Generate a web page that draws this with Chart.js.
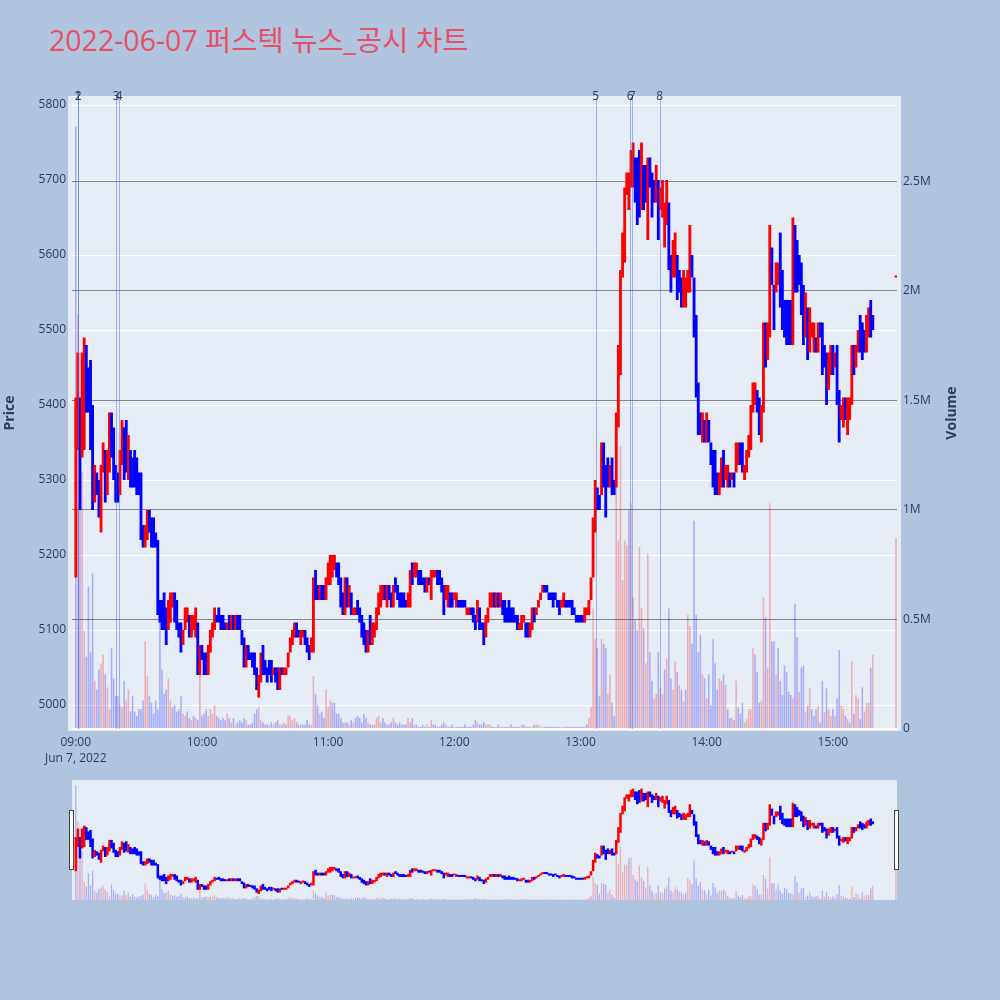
<!DOCTYPE html>
<html lang="ko">
<head>
<meta charset="utf-8">
<title>퍼스텍 뉴스_공시 차트</title>
<script src="https://cdn.jsdelivr.net/npm/chart.js@4.4.1/dist/chart.umd.min.js"></script>
<style>
  html, body { margin: 0; padding: 0; }
  body {
    width: 1000px; height: 1000px; position: relative; overflow: hidden;
    background: #b0c4de;
    font-family: "Open Sans", "Noto Sans CJK KR", sans-serif;
  }
  #chart-title {
    position: absolute; left: 49px; top: 26px;
    font-size: 28.5px; line-height: 1; color: #e6506a; white-space: nowrap;
  }
  #price-chart { position: absolute; left: 0; top: 0; }
  #range-chart { position: absolute; left: 0; top: 770px; }
</style>
</head>
<body>
<div id="chart-title">2022-06-07 퍼스텍 뉴스_공시 차트</div>
<canvas id="price-chart" width="1000" height="770"></canvas>
<canvas id="range-chart" width="1000" height="140"></canvas>
<script>
// 1-minute candles, index = minutes after 09:00
const opens = [
  5170, 5340, 5410, 5330, 5340, 5480, 5450, 5460, 5400, 5270, // 09:00
  5310, 5300, 5230, 5310, 5340, 5280, 5310, 5390, 5370, 5320,
  5310, 5280, 5320, 5370, 5380, 5300, 5340, 5330, 5340, 5330,
  5310, 5310, 5240, 5210, 5220, 5260, 5250, 5250, 5230, 5220,
  5140, 5140, 5150, 5130, 5100, 5110, 5130, 5150, 5140, 5110,
  5110, 5080, 5100, 5110, 5120, 5090, 5100, 5090, 5110, 5040,
  5080, 5070, 5070, 5040, 5070, 5090, 5100, 5120, 5130, 5120, // 10:00
  5120, 5110, 5100, 5120, 5100, 5120, 5100, 5120, 5120, 5100,
  5090, 5050, 5080, 5070, 5070, 5070, 5050, 5010, 5030, 5080,
  5060, 5050, 5060, 5060, 5040, 5050, 5050, 5020, 5050, 5040,
  5040, 5050, 5070, 5080, 5090, 5110, 5100, 5080, 5090, 5100,
  5090, 5080, 5070, 5070, 5180, 5160, 5140, 5160, 5160, 5140,
  5160, 5160, 5170, 5180, 5190, 5190, 5170, 5150, 5120, 5170, // 11:00
  5130, 5150, 5120, 5120, 5140, 5130, 5120, 5110, 5100, 5070,
  5120, 5080, 5090, 5100, 5120, 5130, 5140, 5160, 5130, 5160,
  5150, 5130, 5170, 5160, 5150, 5150, 5150, 5140, 5130, 5130,
  5190, 5170, 5170, 5180, 5180, 5170, 5170, 5150, 5170, 5140,
  5170, 5170, 5180, 5180, 5170, 5160, 5140, 5130, 5150, 5150,
  5140, 5130, 5140, 5140, 5140, 5140, 5120, 5120, 5130, 5130, // 12:00
  5120, 5110, 5130, 5110, 5110, 5090, 5110, 5130, 5130, 5150,
  5130, 5150, 5130, 5140, 5140, 5130, 5140, 5130, 5130, 5120,
  5120, 5100, 5100, 5110, 5110, 5110, 5090, 5100, 5130, 5120,
  5130, 5140, 5150, 5160, 5160, 5150, 5150, 5150, 5150, 5140,
  5140, 5130, 5130, 5140, 5140, 5140, 5140, 5130, 5120, 5120,
  5120, 5120, 5110, 5120, 5120, 5140, 5170, 5230, 5290, 5280, // 13:00
  5280, 5350, 5320, 5330, 5290, 5330, 5300, 5290, 5370, 5440,
  5570, 5590, 5680, 5660, 5690, 5690, 5730, 5730, 5740, 5660,
  5720, 5720, 5620, 5730, 5710, 5700, 5670, 5700, 5660, 5650,
  5610, 5640, 5670, 5600, 5570, 5570, 5600, 5580, 5570, 5530,
  5530, 5550, 5550, 5600, 5570, 5520, 5430, 5390, 5350, 5380,
  5350, 5380, 5350, 5340, 5340, 5310, 5280, 5290, 5340, 5300, // 14:00
  5290, 5310, 5300, 5310, 5310, 5320, 5350, 5350, 5300, 5310,
  5330, 5340, 5390, 5400, 5420, 5410, 5350, 5390, 5510, 5460,
  5490, 5610, 5560, 5550, 5560, 5630, 5580, 5540, 5540, 5540,
  5540, 5480, 5640, 5620, 5600, 5590, 5560, 5490, 5530, 5470,
  5490, 5470, 5490, 5470, 5510, 5510, 5480, 5470, 5420, 5440,
  5480, 5450, 5480, 5420, 5380, 5370, 5410, 5360, 5380, 5400, // 15:00
  5480, 5450, 5470, 5520, 5510, 5500, 5470, 5490, 5540, 5520,
];
const closes = [
  5410, 5470, 5260, 5470, 5490, 5390, 5390, 5340, 5260, 5320, // 09:00
  5280, 5250, 5320, 5350, 5270, 5340, 5390, 5330, 5300, 5270,
  5270, 5340, 5380, 5300, 5310, 5360, 5290, 5290, 5290, 5280,
  5280, 5220, 5210, 5240, 5260, 5230, 5210, 5210, 5210, 5120,
  5110, 5100, 5100, 5080, 5140, 5150, 5150, 5110, 5100, 5090,
  5070, 5100, 5130, 5130, 5090, 5120, 5120, 5130, 5040, 5080,
  5060, 5040, 5040, 5080, 5100, 5110, 5130, 5110, 5110, 5100, // 10:00
  5100, 5100, 5110, 5100, 5120, 5100, 5120, 5100, 5100, 5080,
  5050, 5080, 5060, 5060, 5050, 5040, 5020, 5040, 5070, 5040,
  5040, 5030, 5040, 5030, 5050, 5030, 5020, 5050, 5040, 5050,
  5050, 5070, 5090, 5100, 5110, 5090, 5090, 5100, 5100, 5080,
  5070, 5060, 5090, 5170, 5140, 5140, 5160, 5140, 5140, 5170,
  5190, 5200, 5200, 5200, 5170, 5160, 5130, 5120, 5170, 5130, // 11:00
  5160, 5120, 5130, 5130, 5120, 5110, 5090, 5080, 5070, 5100,
  5080, 5110, 5110, 5130, 5150, 5160, 5160, 5140, 5160, 5140,
  5130, 5160, 5150, 5140, 5130, 5130, 5130, 5130, 5150, 5180,
  5160, 5190, 5190, 5160, 5160, 5160, 5150, 5170, 5160, 5180,
  5180, 5180, 5160, 5160, 5150, 5120, 5160, 5160, 5130, 5130,
  5150, 5150, 5130, 5130, 5130, 5130, 5130, 5130, 5120, 5110, // 12:00
  5100, 5140, 5100, 5100, 5080, 5120, 5130, 5150, 5150, 5130,
  5150, 5130, 5150, 5120, 5110, 5110, 5110, 5110, 5110, 5110,
  5100, 5110, 5120, 5120, 5090, 5090, 5110, 5130, 5110, 5130,
  5140, 5150, 5160, 5150, 5150, 5140, 5140, 5130, 5140, 5130,
  5120, 5140, 5150, 5130, 5130, 5130, 5120, 5120, 5110, 5110,
  5110, 5110, 5130, 5130, 5140, 5170, 5250, 5300, 5260, 5260, // 13:00
  5350, 5290, 5250, 5290, 5320, 5280, 5280, 5390, 5480, 5580,
  5630, 5690, 5710, 5710, 5740, 5750, 5670, 5640, 5650, 5750,
  5660, 5670, 5730, 5690, 5650, 5670, 5720, 5620, 5690, 5700,
  5670, 5700, 5580, 5550, 5620, 5630, 5540, 5550, 5530, 5580,
  5570, 5580, 5640, 5570, 5490, 5410, 5360, 5360, 5390, 5350,
  5390, 5350, 5320, 5290, 5280, 5280, 5310, 5330, 5290, 5320, // 14:00
  5320, 5290, 5310, 5290, 5350, 5350, 5320, 5310, 5320, 5340,
  5360, 5400, 5430, 5430, 5390, 5360, 5400, 5510, 5450, 5510,
  5640, 5560, 5500, 5590, 5590, 5530, 5500, 5490, 5480, 5480,
  5480, 5650, 5550, 5550, 5560, 5520, 5480, 5550, 5460, 5530,
  5510, 5510, 5470, 5510, 5490, 5440, 5450, 5400, 5470, 5480,
  5440, 5470, 5400, 5350, 5400, 5410, 5380, 5410, 5410, 5480, // 15:00
  5440, 5480, 5500, 5470, 5460, 5470, 5520, 5530, 5490, 5500,
];
// traded volume per minute, millions of shares
const volumesM = [
  2.75, 1.89, 1.26, 1.17, 0.45, 0.33, 0.65, 0.35, 0.71, 0.22, // 09:00
  0.18, 0.27, 0.30, 0.34, 0.25, 0.19, 0.09, 0.37, 0.23, 0.15,
  0.15, 0.11, 0.10, 0.22, 0.13, 0.18, 0.08, 0.15, 0.08, 0.06,
  0.09, 0.09, 0.13, 0.40, 0.24, 0.15, 0.12, 0.07, 0.13, 0.09,
  0.55, 0.27, 0.16, 0.18, 0.23, 0.13, 0.10, 0.11, 0.08, 0.09,
  0.15, 0.07, 0.06, 0.08, 0.05, 0.04, 0.06, 0.05, 0.04, 0.37,
  0.06, 0.07, 0.09, 0.06, 0.09, 0.07, 0.11, 0.06, 0.05, 0.04, // 10:00
  0.05, 0.04, 0.07, 0.05, 0.03, 0.05, 0.02, 0.03, 0.04, 0.03,
  0.05, 0.04, 0.02, 0.02, 0.03, 0.07, 0.09, 0.10, 0.04, 0.03,
  0.02, 0.02, 0.02, 0.03, 0.02, 0.03, 0.04, 0.02, 0.02, 0.03,
  0.02, 0.06, 0.06, 0.04, 0.05, 0.03, 0.02, 0.02, 0.02, 0.02,
  0.04, 0.02, 0.02, 0.24, 0.16, 0.11, 0.07, 0.08, 0.05, 0.18,
  0.10, 0.13, 0.12, 0.12, 0.07, 0.07, 0.05, 0.03, 0.03, 0.03, // 11:00
  0.02, 0.04, 0.03, 0.05, 0.06, 0.05, 0.03, 0.07, 0.05, 0.03,
  0.02, 0.02, 0.02, 0.05, 0.06, 0.03, 0.05, 0.03, 0.02, 0.02,
  0.03, 0.05, 0.03, 0.02, 0.03, 0.02, 0.02, 0.02, 0.05, 0.03,
  0.05, 0.02, 0.02, 0.01, 0.01, 0.02, 0.01, 0.02, 0.01, 0.04,
  0.02, 0.02, 0.01, 0.01, 0.02, 0.03, 0.02, 0.01, 0.01, 0.02,
  0.01, 0.01, 0.01, 0.01, 0.01, 0.02, 0.01, 0.01, 0.01, 0.02, // 12:00
  0.04, 0.03, 0.02, 0.02, 0.03, 0.02, 0.02, 0.02, 0.01, 0.01,
  0.01, 0.02, 0.01, 0.01, 0.01, 0.01, 0.01, 0.02, 0.01, 0.01,
  0.01, 0.01, 0.02, 0.02, 0.01, 0.01, 0.01, 0.01, 0.02, 0.02,
  0.02, 0.01, 0.01, 0.01, 0.01, 0.01, 0.01, 0.01, 0.01, 0.01,
  0.01, 0.01, 0.01, 0.01, 0.01, 0.01, 0.01, 0.01, 0.01, 0.01,
  0.01, 0.01, 0.01, 0.02, 0.05, 0.10, 0.55, 0.41, 0.37, 0.15, // 13:00
  0.41, 0.39, 0.37, 0.16, 0.25, 0.12, 0.06, 1.21, 0.86, 1.29,
  0.68, 0.86, 0.84, 1.00, 1.03, 0.60, 0.50, 0.45, 0.83, 0.55,
  0.46, 0.30, 0.80, 0.35, 0.22, 0.14, 0.16, 0.35, 0.19, 0.16,
  0.27, 0.32, 0.55, 0.23, 0.18, 0.31, 0.26, 0.20, 0.18, 0.125,
  0.18, 0.52, 0.47, 0.39, 0.95, 0.52, 0.35, 0.43, 0.25, 0.23,
  0.14, 0.25, 0.11, 0.41, 0.30, 0.18, 0.23, 0.22, 0.25, 0.20, // 14:00
  0.09, 0.05, 0.05, 0.04, 0.22, 0.10, 0.07, 0.12, 0.03, 0.045,
  0.09, 0.09, 0.37, 0.34, 0.26, 0.12, 0.13, 0.60, 0.51, 0.28,
  1.03, 0.40, 0.40, 0.25, 0.37, 0.22, 0.155, 0.29, 0.26, 0.17,
  0.155, 0.14, 0.57, 0.42, 0.17, 0.28, 0.29, 0.077, 0.107, 0.185,
  0.09, 0.06, 0.09, 0.107, 0.03, 0.22, 0.077, 0.185, 0.09, 0.06,
  0.09, 0.06, 0.14, 0.36, 0.107, 0.09, 0.06, 0.045, 0.03, 0.31, // 15:00
  0.07, 0.155, 0.14, 0.045, 0.19, 0.08, 0.12, 0.12, 0.28, 0.34,
];

// 15:30 closing auction
const closeAuctionMinute = 390;
const closeAuctionPrice = 5570;
const closeAuctionVolumeM = 0.87;

// news / disclosure markers
const eventMinutes = [1.0, 1.1, 19.2, 20.6, 247.2, 263.6, 264.6, 277.7];
const eventLabels = ["1", "2", "3", "4", "5", "6", "7", "8"];

const hourMarks = [0, 60, 120, 180, 240, 300, 360];
const hourLabels = ["09:00", "10:00", "11:00", "12:00", "13:00", "14:00", "15:00"];
const dateLabel = "Jun 7, 2022";

const priceTicks = [5000, 5100, 5200, 5300, 5400, 5500, 5600, 5700, 5800];
const volumeTicks = [0, 0.5, 1, 1.5, 2, 2.5];
const volumeTickLabels = ["0", "0.5M", "1M", "1.5M", "2M", "2.5M"];

const X_MIN = -1.8, X_MAX = 390.5;
const PRICE_MIN = 4968, PRICE_MAX = 5810.7;
const VOL_MAX = 2.884;

const UP = "#ff0000";
const DOWN = "#0000ff";
const VOL_UP = "rgba(255,0,0,0.27)";
const VOL_DOWN = "rgba(0,0,255,0.27)";
const axisColor = "#2a3f5f";
const axisFont = { family: "'Open Sans', sans-serif", size: 12 };

const allOpens = opens.concat([closeAuctionPrice]);
const allCloses = closes.concat([closeAuctionPrice]);

const candleColors = allOpens.map((o, i) => {
  const c = allCloses[i];
  if (c !== o) return c > o ? UP : DOWN;
  return i > 0 && c >= allCloses[i - 1] ? UP : DOWN;
});
const volumeColors = allCloses.map((c, i) => (i > 0 && c > allCloses[i - 1] ? VOL_UP : VOL_DOWN));

function makeDatasets(candleRatio, volumeRatio) {
  const candles = opens.map((o, i) => ({ x: i, y: [o, closes[i]] }));
  candles.push({ x: closeAuctionMinute, y: [closeAuctionPrice, closeAuctionPrice] });
  const volumes = volumesM.map((v, i) => ({ x: i, y: v }));
  volumes.push({ x: closeAuctionMinute, y: closeAuctionVolumeM });
  return [
    {
      label: "Price", data: candles, yAxisID: "y", backgroundColor: candleColors,
      grouped: false, categoryPercentage: 1, barPercentage: candleRatio, minBarLength: 2, order: 0,
    },
    {
      label: "Volume", data: volumes, yAxisID: "yVol", backgroundColor: volumeColors,
      grouped: false, categoryPercentage: 1, barPercentage: volumeRatio, order: 1,
    },
  ];
}

const plotBackground = {
  id: "plotBackground",
  beforeDraw(chart, args, opts) {
    const { ctx, chartArea } = chart;
    ctx.save();
    ctx.fillStyle = "#e5ecf6";
    ctx.fillRect(chartArea.left - opts.padX, chartArea.top - opts.padTop,
      chartArea.width + 2 * opts.padX, chartArea.height + opts.padTop + opts.padBottom);
    ctx.restore();
  },
};

const eventMarkers = {
  id: "eventMarkers",
  afterDatasetsDraw(chart) {
    const { ctx, chartArea, scales } = chart;
    ctx.save();
    ctx.strokeStyle = "rgba(65,105,225,0.45)";
    ctx.lineWidth = 1;
    eventMinutes.forEach((m) => {
      const x = Math.round(scales.x.getPixelForValue(m)) + 0.5;
      ctx.beginPath();
      ctx.moveTo(x, chartArea.top);
      ctx.lineTo(x, chartArea.bottom);
      ctx.stroke();
    });
    ctx.fillStyle = axisColor;
    ctx.font = "12px 'Open Sans', sans-serif";
    ctx.textAlign = "center";
    ctx.textBaseline = "middle";
    eventMinutes.forEach((m, i) => {
      ctx.fillText(eventLabels[i], scales.x.getPixelForValue(m), chartArea.top);
    });
    ctx.restore();
  },
};

const axisTitles = {
  id: "axisTitles",
  afterDraw(chart) {
    const { ctx, chartArea } = chart;
    const midY = (chartArea.top + chartArea.bottom) / 2;
    ctx.save();
    ctx.fillStyle = axisColor;
    ctx.font = "bold 14px 'Open Sans', sans-serif";
    ctx.textAlign = "center";
    ctx.textBaseline = "middle";
    [["Price", 10], ["Volume", 952]].forEach(([text, x]) => {
      ctx.save();
      ctx.translate(x, midY);
      ctx.rotate(-Math.PI / 2);
      ctx.fillText(text, 0, 0);
      ctx.restore();
    });
    ctx.restore();
  },
};

const rangeHandles = {
  id: "rangeHandles",
  afterDraw(chart) {
    const { ctx, chartArea } = chart;
    const midY = (chartArea.top + chartArea.bottom) / 2;
    ctx.save();
    ctx.fillStyle = "#ffffff";
    ctx.strokeStyle = "#444444";
    ctx.lineWidth = 1;
    [chartArea.left, chartArea.right].forEach((x) => {
      const left = Math.round(x) - 2.5;
      ctx.fillRect(left, midY - 29.5, 4, 59);
      ctx.strokeRect(left, midY - 29.5, 4, 59);
    });
    ctx.restore();
  },
};

new Chart(document.getElementById("price-chart"), {
  type: "bar",
  data: { datasets: makeDatasets(1.35, 0.75) },
  options: {
    responsive: false,
    animation: false,
    events: [],
    layout: { padding: { top: 97, left: 0, right: 0, bottom: 0 } },
    plugins: {
      legend: { display: false },
      tooltip: { enabled: false },
      plotBackground: { padX: 4, padTop: 1, padBottom: 2 },
    },
    scales: {
      x: {
        type: "linear", min: X_MIN, max: X_MAX, offset: false,
        grid: { display: false, drawTicks: false }, border: { display: false },
        afterBuildTicks: (s) => { s.ticks = hourMarks.map((v) => ({ value: v })); },
        afterFit: (s) => { s.height = 41; },
        ticks: {
          font: { ...axisFont, lineHeight: 1.35 }, color: axisColor, padding: 5,
          maxRotation: 0, autoSkip: false,
          callback: (v, i) => (i === 0 ? [hourLabels[0], dateLabel] : hourLabels[i]),
        },
      },
      y: {
        position: "left", min: PRICE_MIN, max: PRICE_MAX,
        afterBuildTicks: (s) => { s.ticks = priceTicks.map((v) => ({ value: v })); },
        afterFit: (s) => { s.width = 72; },
        grid: { color: "#ffffff", lineWidth: 1, drawTicks: false },
        border: { display: false },
        ticks: { font: axisFont, color: axisColor, padding: 6, callback: (v, i) => String(priceTicks[i]) },
      },
      yVol: {
        position: "right", min: 0, max: VOL_MAX,
        afterBuildTicks: (s) => { s.ticks = volumeTicks.map((v) => ({ value: v })); },
        afterFit: (s) => { s.width = 103; },
        grid: {
          color: (ctx) => (ctx.tick && ctx.tick.value === 0 ? "#ffffff" : "rgba(115,115,115,0.85)"),
          lineWidth: (ctx) => (ctx.tick && ctx.tick.value === 0 ? 2 : 1),
          drawTicks: false,
        },
        border: { display: false },
        ticks: { font: axisFont, color: axisColor, padding: 6, callback: (v, i) => volumeTickLabels[i] },
      },
    },
  },
  plugins: [plotBackground, eventMarkers, axisTitles],
});

new Chart(document.getElementById("range-chart"), {
  type: "bar",
  data: { datasets: makeDatasets(1.2, 0.6) },
  options: {
    responsive: false,
    animation: false,
    events: [],
    layout: { padding: { top: 10, left: 72, right: 103, bottom: 10 } },
    plugins: {
      legend: { display: false },
      tooltip: { enabled: false },
      plotBackground: { padX: 0, padTop: 0, padBottom: 0 },
    },
    scales: {
      x: { type: "linear", min: X_MIN, max: X_MAX, offset: false, display: false },
      y: { min: PRICE_MIN, max: PRICE_MAX, display: false },
      yVol: { position: "right", min: 0, max: VOL_MAX, display: false },
    },
  },
  plugins: [plotBackground, rangeHandles],
});
</script>
</body>
</html>
